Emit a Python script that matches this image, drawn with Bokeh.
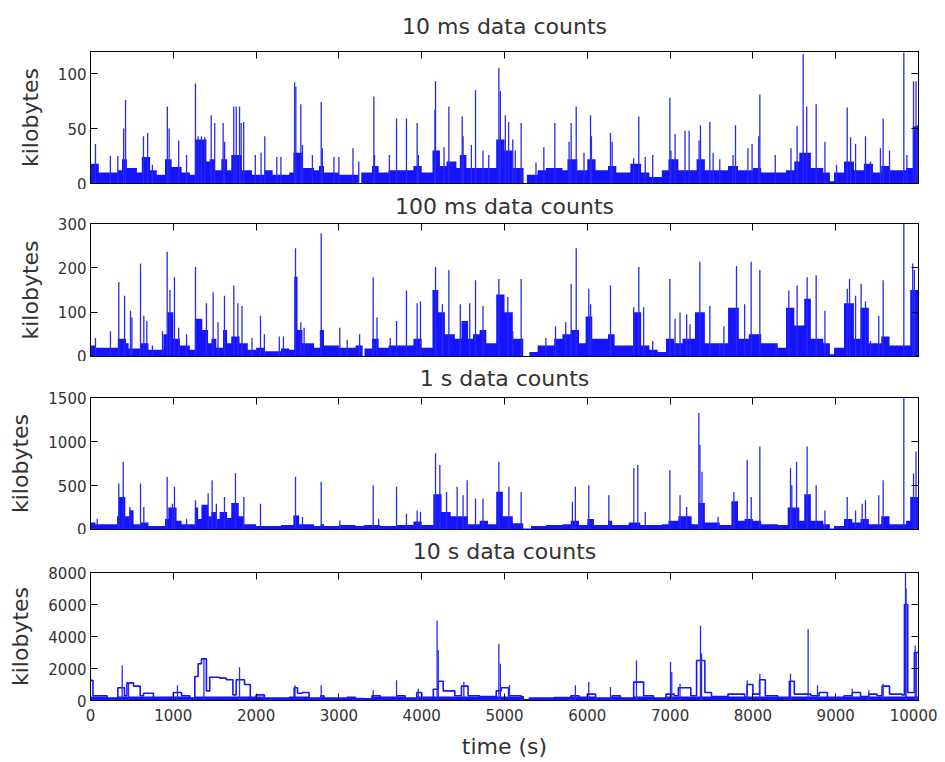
from bokeh.plotting import figure
from bokeh.layouts import column
from bokeh.models import LinearAxis, FixedTicker, Range1d
from bokeh.embed import file_html
from bokeh.resources import INLINE

# ---------------- data ----------------
# 10 ms data counts (kilobytes)
ms10_base_t = [0, 100, 330, 380, 440, 560, 620, 720, 800, 900, 980, 1100, 1200, 1260, 1400, 1440, 1500, 1580, 1650, 1700, 1830, 1950, 2100, 2200, 2400, 2450, 2560, 2700, 2760, 2820, 3000, 3240, 3270, 3400, 3480, 3600, 3900, 4000, 4130, 4220, 4300, 4420, 4460, 4540, 4700, 4900, 5000, 5100, 5230, 5270, 5400, 5500, 5700, 5760, 5880, 6000, 6100, 6250, 6350, 6520, 6650, 6750, 6900, 6980, 7100, 7320, 7420, 7700, 7820, 8000, 8100, 8400, 8500, 8560, 8700, 8850, 8930, 8980, 9100, 9220, 9340, 9450, 9550, 9650, 9850, 9930, 10000]
ms10_base_v = [18, 10, 12, 22, 14, 10, 24, 12, 8, 22, 15, 10, 8, 40, 20, 22, 12, 22, 12, 26, 12, 8, 12, 8, 10, 28, 14, 12, 16, 10, 8, 0, 10, 16, 10, 12, 16, 10, 30, 16, 20, 14, 26, 14, 14, 40, 30, 14, 0, 8, 12, 14, 12, 22, 12, 22, 12, 16, 10, 18, 10, 6, 12, 22, 12, 22, 12, 16, 12, 14, 10, 12, 20, 28, 14, 10, 2, 10, 20, 12, 18, 10, 16, 12, 14, 52, 52]
ms10_spike_t = [60, 240, 330, 400, 423, 640, 690, 748, 928, 950, 1065, 1160, 1268, 1300, 1340, 1380, 1458, 1500, 1602, 1620, 1730, 1760, 1800, 1820, 1850, 1990, 2060, 2105, 2250, 2300, 2465, 2480, 2540, 2560, 2680, 2786, 2800, 2940, 3000, 3170, 3240, 3422, 3430, 3610, 3696, 3816, 3945, 3960, 4160, 4167, 4270, 4328, 4489, 4500, 4600, 4650, 4740, 4810, 4932, 4950, 5010, 5050, 5100, 5130, 5201, 5380, 5475, 5608, 5780, 5805, 5866, 5960, 6039, 6050, 6280, 6300, 6560, 6622, 6700, 6790, 6997, 7010, 7060, 7180, 7230, 7350, 7367, 7480, 7520, 7600, 7760, 7790, 7940, 7990, 8070, 8084, 8270, 8460, 8534, 8607, 8650, 8764, 8870, 9010, 9139, 9180, 9240, 9360, 9420, 9540, 9573, 9650, 9823, 9860, 9940, 9970, 9990]
ms10_spike_v = [36, 25, 25, 50, 76, 43, 46, 17, 70, 50, 39, 26, 91, 43, 43, 42, 62, 55, 55, 38, 70, 70, 70, 55, 56, 26, 28, 43, 24, 24, 92, 88, 72, 35, 26, 74, 32, 24, 24, 32, 20, 79, 26, 26, 59, 59, 55, 26, 67, 93, 33, 70, 61, 43, 35, 85, 30, 26, 105, 84, 62, 56, 40, 30, 55, 19, 33, 55, 38, 55, 70, 28, 62, 43, 46, 38, 23, 61, 24, 26, 78, 30, 45, 48, 48, 39, 53, 56, 28, 22, 26, 53, 32, 36, 43, 81, 26, 32, 52, 118, 70, 72, 38, 17, 69, 42, 36, 43, 20, 32, 59, 30, 119, 26, 93, 93, 53]

# 100 ms data counts
ms100_base_t = [0, 60, 330, 430, 460, 600, 700, 880, 930, 1000, 1080, 1200, 1260, 1350, 1420, 1460, 1520, 1600, 1650, 1700, 1800, 1900, 2000, 2100, 2300, 2400, 2460, 2500, 2560, 2700, 2770, 2820, 3000, 3200, 3287, 3310, 3400, 3480, 3600, 3900, 4000, 4130, 4200, 4280, 4400, 4480, 4560, 4620, 4700, 4780, 4900, 5000, 5100, 5226, 5300, 5400, 5600, 5700, 5800, 5900, 5980, 6060, 6250, 6330, 6560, 6650, 6750, 6850, 6950, 7050, 7150, 7300, 7420, 7600, 7700, 7830, 7950, 8100, 8300, 8400, 8500, 8620, 8700, 8850, 8930, 8980, 9100, 9220, 9300, 9400, 9550, 9650, 9900, 10000]
ms100_base_v = [25, 20, 40, 30, 18, 30, 15, 50, 100, 40, 25, 15, 85, 60, 30, 40, 20, 60, 30, 45, 30, 15, 20, 12, 18, 15, 180, 60, 30, 20, 60, 25, 20, 25, 0, 18, 40, 20, 25, 40, 20, 150, 100, 50, 40, 80, 40, 50, 60, 30, 140, 100, 40, 0, 10, 25, 40, 50, 60, 30, 90, 40, 50, 25, 100, 25, 15, 10, 40, 30, 40, 100, 30, 30, 110, 40, 50, 30, 20, 110, 70, 130, 40, 30, 5, 20, 120, 40, 110, 30, 45, 25, 150, 150]
ms100_spike_t = [60, 241, 342, 411, 483, 500, 604, 644, 680, 748, 870, 926, 960, 1014, 1065, 1160, 1268, 1400, 1481, 1540, 1618, 1731, 1780, 1830, 1950, 2053, 2100, 2280, 2330, 2476, 2540, 2580, 2786, 3011, 3100, 3250, 3414, 3460, 3620, 3696, 3816, 3945, 3985, 4167, 4250, 4328, 4466, 4580, 4650, 4740, 4932, 5040, 5100, 5201, 5500, 5616, 5740, 5805, 5866, 6018, 6040, 6280, 6560, 6622, 6680, 6790, 6997, 7060, 7120, 7200, 7240, 7359, 7480, 7600, 7650, 7802, 7900, 7979, 8084, 8280, 8434, 8534, 8655, 8764, 8870, 9140, 9167, 9240, 9307, 9360, 9420, 9520, 9573, 9823, 9930, 9950]
ms100_spike_v = [42, 57, 168, 137, 103, 88, 210, 92, 80, 25, 57, 236, 150, 179, 65, 50, 202, 120, 145, 77, 137, 160, 120, 114, 42, 92, 50, 45, 45, 244, 77, 65, 278, 65, 38, 50, 179, 88, 42, 80, 149, 120, 124, 202, 118, 195, 118, 120, 172, 114, 175, 134, 57, 175, 42, 68, 77, 164, 244, 153, 118, 160, 111, 202, 111, 35, 175, 85, 99, 95, 73, 214, 114, 30, 68, 204, 118, 214, 195, 30, 149, 160, 179, 183, 103, 153, 175, 137, 164, 124, 35, 92, 172, 300, 210, 195]

# 1 s data counts
s1_base_t = [0, 60, 320, 340, 420, 470, 520, 600, 700, 900, 940, 1040, 1100, 1260, 1300, 1340, 1420, 1460, 1520, 1560, 1650, 1700, 1790, 1850, 2000, 2300, 2450, 2520, 2700, 2780, 2820, 3000, 3200, 3300, 3500, 3700, 3900, 4000, 4140, 4240, 4350, 4480, 4560, 4700, 4800, 4900, 4980, 5100, 5226, 5320, 5500, 5700, 5800, 5900, 6000, 6080, 6250, 6300, 6500, 6640, 6900, 6980, 7100, 7260, 7340, 7420, 7600, 7740, 7820, 7900, 8000, 8100, 8300, 8420, 8560, 8620, 8700, 8850, 8930, 8980, 9100, 9200, 9300, 9400, 9550, 9650, 9850, 9900, 10000]
s1_base_v = [80, 60, 150, 370, 150, 220, 60, 80, 40, 120, 250, 100, 60, 250, 120, 280, 150, 200, 120, 200, 130, 300, 150, 60, 40, 50, 160, 60, 40, 60, 40, 50, 40, 50, 40, 50, 90, 50, 400, 200, 150, 150, 60, 100, 60, 430, 150, 70, 10, 40, 50, 60, 100, 50, 120, 50, 100, 50, 80, 50, 60, 100, 150, 60, 300, 80, 50, 320, 100, 120, 100, 60, 50, 250, 100, 400, 100, 60, 10, 40, 120, 80, 120, 60, 150, 60, 100, 370, 370]
s1_spike_t = [81, 342, 395, 475, 604, 644, 926, 990, 1014, 1160, 1268, 1421, 1469, 1520, 1618, 1751, 1852, 2053, 2476, 2560, 2786, 3011, 3414, 3480, 3696, 3816, 3945, 3985, 4167, 4219, 4300, 4428, 4500, 4549, 4650, 4740, 4932, 5053, 5201, 5820, 5856, 6018, 6260, 6562, 6610, 6700, 6997, 7120, 7200, 7347, 7360, 7385, 7580, 7770, 7931, 7980, 8084, 8454, 8470, 8527, 8655, 8764, 8870, 9139, 9240, 9320, 9360, 9520, 9573, 9823, 9940, 9970]
s1_spike_v = [122, 523, 771, 256, 523, 256, 599, 294, 485, 122, 332, 408, 561, 294, 370, 638, 370, 294, 599, 141, 542, 103, 504, 122, 485, 179, 217, 198, 867, 733, 427, 485, 389, 561, 351, 351, 771, 485, 427, 313, 485, 504, 389, 695, 733, 198, 676, 389, 255, 1325, 962, 657, 141, 427, 790, 370, 943, 695, 504, 771, 943, 504, 217, 370, 217, 294, 332, 389, 561, 1500, 637, 886]

# 10 s data counts
s10_base_t = [0, 30, 200, 330, 410, 440, 520, 600, 640, 760, 1000, 1100, 1200, 1260, 1300, 1340, 1400, 1440, 1560, 1640, 1720, 1760, 1860, 1930, 2000, 2100, 2400, 2460, 2500, 2560, 2640, 2780, 2820, 3100, 3200, 3300, 3400, 3500, 3700, 3800, 3940, 4000, 4140, 4200, 4260, 4400, 4480, 4560, 4700, 4900, 4960, 5050, 5200, 5226, 5300, 5600, 5800, 5900, 6000, 6100, 6300, 6400, 6560, 6680, 6800, 6950, 7050, 7100, 7250, 7320, 7420, 7500, 7700, 7900, 7930, 8000, 8080, 8150, 8300, 8440, 8500, 8700, 8800, 8900, 9100, 9200, 9300, 9400, 9500, 9560, 9650, 9800, 9830, 9870, 9950, 10000]
s10_base_v = [1260, 300, 150, 800, 300, 1100, 900, 300, 450, 200, 500, 300, 150, 1500, 2300, 2600, 600, 1450, 1400, 1300, 350, 1300, 1000, 200, 350, 150, 200, 800, 450, 500, 150, 300, 150, 200, 120, 100, 300, 200, 300, 150, 500, 200, 700, 1200, 600, 300, 900, 300, 250, 600, 800, 300, 250, 50, 150, 180, 300, 200, 400, 150, 300, 150, 1150, 300, 150, 400, 300, 800, 300, 2500, 500, 250, 400, 200, 1000, 400, 1300, 300, 200, 1200, 400, 300, 500, 200, 300, 500, 250, 400, 300, 900, 400, 350, 6000, 500, 3000, 3000]
s10_spike_t = [383, 460, 1050, 1370, 1800, 2470, 2786, 3414, 3696, 3960, 4186, 4200, 4509, 4932, 4950, 5060, 5856, 6018, 6280, 6594, 7005, 7020, 7120, 7367, 7380, 7931, 8084, 8454, 8667, 8780, 9200, 9400, 9573, 9843, 9850, 9960, 9975]
s10_spike_v = [2190, 1160, 950, 2600, 2080, 950, 950, 640, 1260, 740, 4980, 3160, 1160, 3535, 2290, 950, 950, 1160, 840, 2500, 2400, 1780, 1050, 4670, 2950, 1260, 1670, 1670, 4465, 950, 740, 640, 1050, 8000, 7000, 3430, 3000]

titles = ["10 ms data counts", "100 ms data counts", "1 s data counts", "10 s data counts"]
y_maxes = [120, 300, 1500, 8000]
y_ticks = [[0, 50, 100], [0, 100, 200, 300], [0, 500, 1000, 1500], [0, 2000, 4000, 6000, 8000]]
x_ticks = list(range(0, 10001, 1000))

# ---------------- styling ----------------
FONT = "DejaVu Sans"
TXT = "#333333"
BLUE = "#1414ff"
SPIKE = "#2a2af0"
W = 937
# (height, border_top, border_bottom, title standoff)
geo = [(189, 51, 6, 13), (172, 34, 5, 5), (173, 36, 5, 7), (227, 38, 61, 9)]


def make(i, base_t, base_v, sp_t, sp_v, fill=True):
    h, bt, bb, tso = geo[i]
    last = i == 3
    p = figure(width=W, height=h, x_range=Range1d(0, 10000), y_range=Range1d(0, y_maxes[i]),
               output_backend="svg", toolbar_location=None,
               x_axis_location=None, y_axis_location=None,
               min_border_left=90, min_border_right=19,
               min_border_top=bt, min_border_bottom=bb)
    p.grid.visible = False
    p.outline_line_color = "black"
    p.outline_line_width = 1
    p.background_fill_color = "white"
    p.border_fill_color = "white"

    ya = LinearAxis(ticker=FixedTicker(ticks=y_ticks[i]), major_tick_in=7, major_tick_out=0,
                    minor_tick_line_color=None, major_label_standoff=4,
                    major_label_text_font=FONT, major_label_text_font_size="15px",
                    major_label_text_color=TXT, axis_label="kilobytes",
                    axis_label_text_font=FONT, axis_label_text_font_size="22px",
                    axis_label_text_font_style="normal", axis_label_text_color=TXT,
                    axis_label_standoff=12, axis_line_color="black")
    p.add_layout(ya, "left")

    # right side: ticks only
    ra = LinearAxis(ticker=FixedTicker(ticks=y_ticks[i]), major_tick_in=7, major_tick_out=0,
                    minor_tick_line_color=None, major_label_text_font_size="0px",
                    major_label_text_color=None, major_label_standoff=0,
                    axis_line_color="black")
    p.add_layout(ra, "right")

    # top side: ticks, with the panel title above them
    ta = LinearAxis(ticker=FixedTicker(ticks=x_ticks), major_tick_in=7, major_tick_out=0,
                    minor_tick_line_color=None, major_label_text_font_size="0px",
                    major_label_text_color=None, major_label_standoff=0,
                    axis_line_color="black", axis_label=titles[i],
                    axis_label_text_font=FONT, axis_label_text_font_size="22px",
                    axis_label_text_font_style="normal", axis_label_text_color=TXT,
                    axis_label_standoff=tso)
    p.add_layout(ta, "above")

    if last:
        xa = LinearAxis(ticker=FixedTicker(ticks=x_ticks), major_tick_in=7, major_tick_out=0,
                        minor_tick_line_color=None, major_label_standoff=8,
                        major_label_text_font=FONT, major_label_text_font_size="15px",
                        major_label_text_color=TXT, axis_label="time (s)",
                        axis_label_text_font=FONT, axis_label_text_font_size="22px",
                        axis_label_text_font_style="normal", axis_label_text_color=TXT,
                        axis_label_standoff=10, axis_line_color="black")
        p.add_layout(xa, "below")

    if fill:
        p.varea_step(x=base_t, y1=[0] * len(base_t), y2=base_v, step_mode="after",
                     fill_color=BLUE, fill_alpha=1.0)
    else:
        p.step(x=base_t, y=base_v, mode="after", line_color=BLUE, line_width=1.6)
        p.varea_step(x=base_t, y1=[0] * len(base_t), y2=[min(v, 250) for v in base_v],
                     step_mode="after", fill_color=BLUE, fill_alpha=1.0)
    p.segment(x0=sp_t, y0=[0] * len(sp_t), x1=sp_t, y1=sp_v, line_color=SPIKE, line_width=1.3)
    return p


p1 = make(0, ms10_base_t, ms10_base_v, ms10_spike_t, ms10_spike_v)
p2 = make(1, ms100_base_t, ms100_base_v, ms100_spike_t, ms100_spike_v)
p3 = make(2, s1_base_t, s1_base_v, s1_spike_t, s1_spike_v)
p4 = make(3, s10_base_t, s10_base_v, s10_spike_t, s10_spike_v, fill=False)

layout = column(p1, p2, p3, p4, spacing=0)
open("out.html", "w").write(file_html(layout, INLINE))
